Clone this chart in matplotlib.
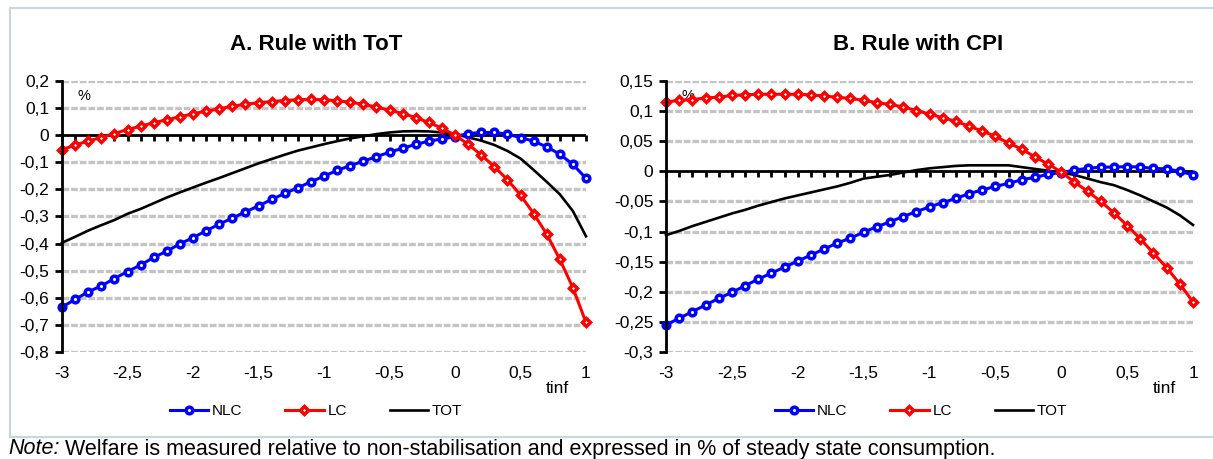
import numpy as np
import matplotlib
matplotlib.use("Agg")
import matplotlib.pyplot as plt
from matplotlib.lines import Line2D

plt.rcParams['font.family'] = ['Liberation Sans', 'DejaVu Sans']

# tinf grid shared by both panels
tinf = np.round(np.arange(-3.0, 1.0001, 0.1), 1)

# Panel A: rule with terms of trade
nlc_a = [-0.634, -0.606, -0.578, -0.556, -0.529, -0.503, -0.479, -0.451, -0.428, -0.401,
         -0.378, -0.353, -0.328, -0.306, -0.283, -0.261, -0.237, -0.215, -0.194, -0.172,
         -0.151, -0.130, -0.112, -0.096, -0.079, -0.063, -0.048, -0.034, -0.022, -0.014,
         -0.005, 0.006, 0.010, 0.010, 0.004, -0.009, -0.022, -0.043, -0.070, -0.108, -0.159]
lc_a = [-0.053, -0.037, -0.021, -0.009, 0.006, 0.021, 0.033, 0.046, 0.057, 0.068,
        0.079, 0.089, 0.097, 0.107, 0.114, 0.120, 0.124, 0.128, 0.131, 0.132,
        0.131, 0.127, 0.122, 0.114, 0.104, 0.092, 0.080, 0.065, 0.047, 0.026,
        0.000, -0.033, -0.073, -0.116, -0.164, -0.221, -0.289, -0.365, -0.458, -0.563, -0.691]
tot_a = [-0.397, -0.375, -0.352, -0.332, -0.313, -0.290, -0.272, -0.251, -0.230, -0.211,
         -0.193, -0.175, -0.158, -0.140, -0.122, -0.104, -0.088, -0.072, -0.057, -0.045,
         -0.033, -0.022, -0.012, -0.004, 0.004, 0.010, 0.014, 0.015, 0.014, 0.010,
         0.004, -0.008, -0.020, -0.036, -0.058, -0.086, -0.128, -0.172, -0.218, -0.280, -0.373]

# Panel B: rule with CPI
nlc_b = [-0.255, -0.244, -0.233, -0.222, -0.211, -0.201, -0.190, -0.179, -0.169, -0.159,
         -0.149, -0.139, -0.129, -0.119, -0.111, -0.101, -0.092, -0.084, -0.075, -0.067,
         -0.059, -0.052, -0.045, -0.037, -0.031, -0.025, -0.020, -0.014, -0.010, -0.005,
         -0.002, 0.002, 0.005, 0.007, 0.007, 0.008, 0.007, 0.005, 0.004, 0.000, -0.006]
lc_b = [0.115, 0.118, 0.119, 0.122, 0.123, 0.126, 0.127, 0.128, 0.128, 0.128,
        0.128, 0.127, 0.125, 0.123, 0.121, 0.118, 0.114, 0.111, 0.107, 0.101,
        0.095, 0.089, 0.083, 0.075, 0.067, 0.058, 0.047, 0.037, 0.024, 0.012,
        -0.001, -0.018, -0.033, -0.050, -0.069, -0.090, -0.112, -0.136, -0.160, -0.187, -0.217]
tot_b = [-0.106, -0.099, -0.091, -0.084, -0.077, -0.070, -0.064, -0.057, -0.051, -0.045,
         -0.040, -0.035, -0.030, -0.025, -0.019, -0.012, -0.009, -0.006, -0.002, 0.002,
         0.005, 0.007, 0.009, 0.010, 0.010, 0.010, 0.010, 0.007, 0.004, 0.001,
         -0.002, -0.006, -0.012, -0.018, -0.023, -0.031, -0.040, -0.050, -0.060, -0.073, -0.089]

xticks = [-3, -2.5, -2, -1.5, -1, -0.5, 0, 0.5, 1]
yticks_a = np.round(np.arange(-0.8, 0.2001, 0.1), 2)
yticks_b = np.round(np.arange(-0.3, 0.1501, 0.05), 2)

titles = ["A. Rule with ToT", "B. Rule with CPI"]
note = "Welfare is measured relative to non-stabilisation and expressed in % of steady state consumption."


def comma(v):
    s = f"{v:g}"
    if s == "-0":
        s = "0"
    return s.replace(".", ",")


W, H = 1213, 459
fig = plt.figure(figsize=(W / 100, H / 100), dpi=100)


def draw_panel(rect, nlc, lc, tot, yticks, title, title_x, legend_x):
    ax = fig.add_axes(rect)
    ax.set_xlim(-3, 1)
    ax.set_ylim(yticks[0], yticks[-1])

    # dashed grey gridlines
    for yv in yticks:
        if abs(yv) > 1e-9:
            ax.axhline(yv, color='#c4c4c4', lw=2.4, ls=(0, (2, 0.6)), zorder=1)

    # zero axis with category tick marks
    ax.axhline(0, color='black', lw=2.0, zorder=2)
    ax.plot(tinf, np.zeros_like(tinf), ls='none', marker=3, ms=4.5, mew=2.0,
            color='black', zorder=2, clip_on=False)

    l1, = ax.plot(tinf, nlc, color='#0000ff', lw=2.2, marker='o', ms=4.8,
                  mfc='white', mec='#0000ff', mew=2.5, label='NLC', zorder=4, clip_on=False)
    l2, = ax.plot(tinf, lc, color='#ff0000', lw=2.2, marker='D', ms=4.4,
                  mfc='white', mec='#ff0000', mew=2.5, label='LC', zorder=5, clip_on=False)
    l3, = ax.plot(tinf, tot, color='black', lw=1.9, label='TOT', zorder=3, clip_on=False)

    for side in ['top', 'right', 'bottom']:
        ax.spines[side].set_visible(False)
    ax.spines['left'].set_linewidth(2.0)
    ax.spines['left'].set_zorder(6)

    ax.set_yticks(yticks)
    ax.set_yticklabels([comma(v) for v in yticks])
    ax.tick_params(axis='y', direction='out', length=5, width=2.0, labelsize=12.5, pad=4)
    ax.set_xticks(xticks)
    ax.set_xticklabels([comma(v) for v in xticks])
    ax.tick_params(axis='x', length=0, labelsize=12.5, pad=10)

    ax.text(0.03, 0.945, '%', transform=ax.transAxes, fontsize=10.5, va='center', ha='left')
    ax.text(0.945, -0.133, 'tinf', transform=ax.transAxes, fontsize=12.5, va='center', ha='center')

    fig.text(title_x / W, 1 - 45 / H, title, fontsize=16, fontweight='bold',
             ha='center', va='center')

    fig.legend(handles=[l1, l2, l3], labels=['NLC', 'LC', 'TOT'],
               loc='center', bbox_to_anchor=(legend_x / W, 1 - 411 / H), ncol=3,
               frameon=False, fontsize=11, handlelength=2.5, handletextpad=0.25,
               columnspacing=2.8, markerscale=1.0)
    return ax


draw_panel([62 / W, 1 - 352 / H, 524 / W, 271 / H], nlc_a, lc_a, tot_a, yticks_a,
           titles[0], 316, 316)
draw_panel([666 / W, 1 - 352 / H, 527 / W, 271 / H], nlc_b, lc_b, tot_b, yticks_b,
           titles[1], 918, 921)

# outer frame and note
frame_c = '#c9d4e5'
fig.add_artist(Line2D([10 / W, 1.0], [1 - 8 / H, 1 - 8 / H], color=frame_c, lw=1.5))
fig.add_artist(Line2D([10 / W, 10 / W], [1 - 8 / H, 1 - 437 / H], color=frame_c, lw=1.5))
fig.add_artist(Line2D([10 / W, 1.0], [1 - 437 / H, 1 - 437 / H], color=frame_c, lw=1.5))

t_note = fig.text(8 / W, 1 - 449 / H, 'Note:', fontsize=15.5, style='italic',
                  ha='left', va='center')
fig.add_artist(plt.Annotation(note, xy=(1, 0.5), xycoords=t_note, xytext=(4, 0),
                              textcoords='offset points', fontsize=15.5,
                              ha='left', va='center'))

fig.savefig('out.png', dpi=100)
